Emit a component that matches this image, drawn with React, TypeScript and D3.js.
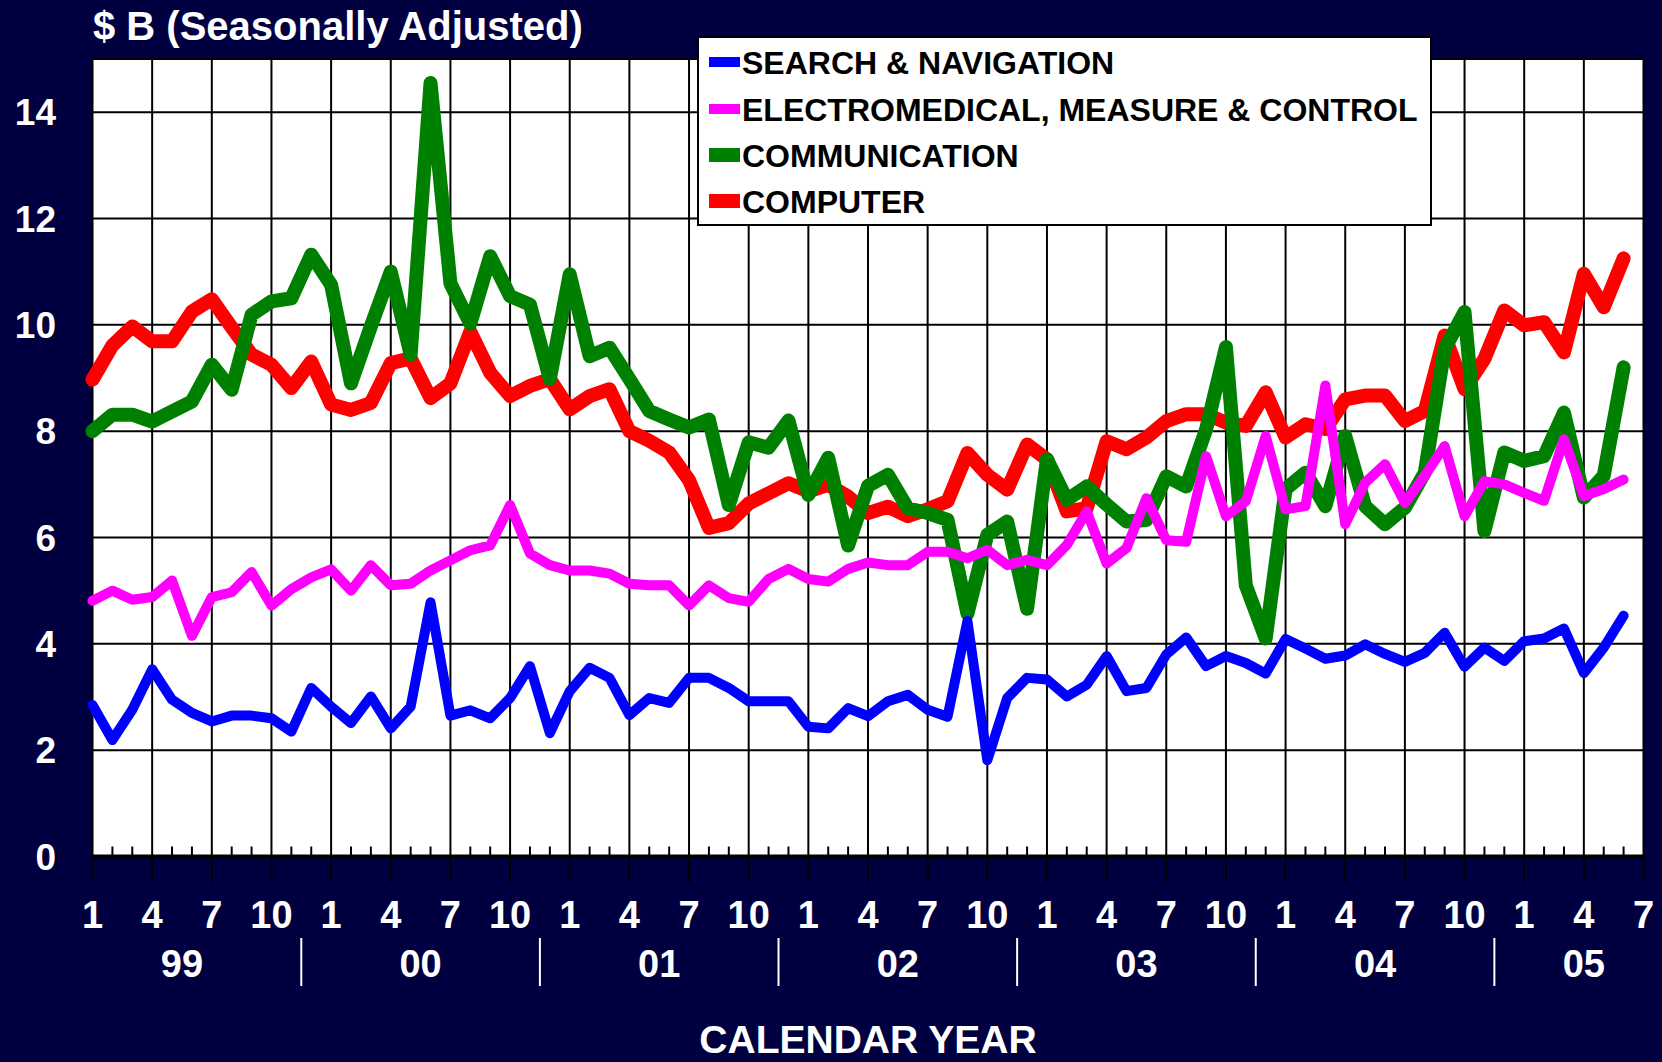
import React from 'react'
import * as d3 from 'd3'

// monthly values, Jan 1999 .. Jun 2005 ($ B, seasonally adjusted)
const searchNav = [
  2.85, 2.19, 2.76, 3.52, 2.95, 2.7, 2.54, 2.65, 2.65, 2.6, 2.35, 3.17,
  2.82, 2.51, 3.01, 2.41, 2.82, 4.78, 2.65, 2.75, 2.6, 2.98, 3.58, 2.32,
  3.11, 3.55, 3.36, 2.66, 2.98, 2.89, 3.36, 3.36, 3.17, 2.92, 2.92, 2.92,
  2.44, 2.41, 2.79, 2.64, 2.92, 3.04, 2.76, 2.63, 4.43, 1.81, 2.98, 3.36,
  3.33, 3.01, 3.23, 3.77, 3.11, 3.17, 3.8, 4.12, 3.58, 3.77, 3.64, 3.44,
  4.09, 3.91, 3.72, 3.78, 3.99, 3.81, 3.66, 3.83, 4.21, 3.57, 3.93, 3.68,
  4.05, 4.1, 4.29, 3.45, 3.93, 4.53,
]
const electromedical = [
  4.81, 5.0, 4.83, 4.88, 5.19, 4.15, 4.88, 4.97, 5.35, 4.72, 5.03, 5.25,
  5.4, 5.0, 5.48, 5.1, 5.13, 5.38, 5.57, 5.76, 5.85, 6.61, 5.7, 5.48,
  5.38, 5.38, 5.32, 5.13, 5.1, 5.1, 4.72, 5.1, 4.86, 4.79, 5.22, 5.41,
  5.22, 5.17, 5.41, 5.53, 5.48, 5.48, 5.73, 5.73, 5.61, 5.77, 5.48, 5.58,
  5.48, 5.86, 6.49, 5.51, 5.8, 6.74, 5.95, 5.92, 7.53, 6.4, 6.68, 7.91,
  6.53, 6.59, 8.86, 6.25, 7.03, 7.38, 6.65, 7.16, 7.72, 6.4, 7.06, 7.0,
  6.84, 6.69, 7.85, 6.78, 6.91, 7.09,
]
const communication = [
  8.0, 8.31, 8.31, 8.18, 8.37, 8.56, 9.25, 8.78, 10.19, 10.44, 10.5, 11.32,
  10.75, 8.9, 9.97, 11.0, 9.44, 14.55, 10.78, 10.02, 11.29, 10.54, 10.38, 8.98,
  10.95, 9.41, 9.57, 8.98, 8.38, 8.22, 8.07, 8.22, 6.61, 7.79, 7.69, 8.2,
  6.8, 7.5, 5.85, 6.97, 7.18, 6.55, 6.46, 6.33, 4.57, 6.05, 6.3, 4.66,
  7.47, 6.71, 6.96, 6.62, 6.3, 6.33, 7.15, 6.96, 8.03, 9.58, 5.1, 4.1,
  6.91, 7.22, 6.59, 7.91, 6.59, 6.25, 6.56, 7.22, 9.55, 10.24, 6.12, 7.6,
  7.44, 7.53, 8.35, 6.75, 7.16, 9.2,
]
const computer = [
  8.97, 9.61, 9.97, 9.69, 9.69, 10.25, 10.48, 9.95, 9.44, 9.25, 8.81, 9.31,
  8.5, 8.4, 8.53, 9.28, 9.37, 8.62, 8.9, 9.87, 9.1, 8.66, 8.85, 8.98,
  8.41, 8.66, 8.79, 8.0, 7.82, 7.6, 7.08, 6.18, 6.27, 6.64, 6.83, 7.02,
  6.87, 6.99, 6.77, 6.46, 6.58, 6.4, 6.53, 6.68, 7.59, 7.18, 6.9, 7.75,
  7.47, 6.49, 6.55, 7.81, 7.66, 7.88, 8.19, 8.32, 8.32, 8.16, 8.1, 8.73,
  7.88, 8.13, 8.04, 8.6, 8.67, 8.67, 8.19, 8.38, 9.8, 8.79, 9.36, 10.27,
  9.99, 10.05, 9.48, 10.96, 10.33, 11.25,
]

const yTicks = [0, 2, 4, 6, 8, 10, 12, 14]
const monthLabels = ['1', '4', '7', '10']
const yearLabels = ['99', '00', '01', '02', '03', '04', '05']

const series = [
  { name: 'SEARCH & NAVIGATION', values: searchNav, color: '#0000ff', width: 10 },
  { name: 'ELECTROMEDICAL, MEASURE & CONTROL', values: electromedical, color: '#ff00ff', width: 10 },
  { name: 'COMMUNICATION', values: communication, color: '#008000', width: 14 },
  { name: 'COMPUTER', values: computer, color: '#ff0000', width: 14 },
]

const W = 1662
const H = 1062
const BG = '#000040'
const FONT = '"Liberation Sans", Arial, sans-serif'

const App: React.FC = () => {
  const nMonths = 78
  const x = d3.scaleLinear().domain([0, nMonths]).range([92.5, 1643.5])
  const y = d3.scaleLinear().domain([0, 15]).range([856.5, 59])

  const line = d3
    .line<number>()
    .x((_, i) => x(i))
    .y((d) => y(d))

  const quarters = d3.range(0, nMonths + 1, 3)
  const minor = d3.range(0, nMonths + 1).filter((m) => m % 3 !== 0)

  // year separators sit 1.5 months before each January
  const seps = yearLabels.slice(1).map((_, i) => (i + 1) * 12 - 1.5)
  const bounds = [-1.5, ...seps, nMonths + 1.5]

  // draw order: computer at the bottom, search on top
  const drawOrder = [...series].reverse()

  return (
    <svg
      width={W}
      height={H}
      style={{ position: 'absolute', left: 0, top: 0, display: 'block' }}
      fontFamily={FONT}
      fontWeight="bold"
    >
      <rect width={W} height={H} fill={BG} />
      <text x={93} y={40} fill="#fff" fontSize={40}>
        $ B (Seasonally Adjusted)
      </text>

      {/* plot area */}
      <rect x={x(0)} y={y(15)} width={x(nMonths) - x(0)} height={y(0) - y(15)} fill="#fff" />
      {yTicks.slice(1).map((t) => (
        <line key={'h' + t} x1={x(0)} x2={x(nMonths)} y1={y(t)} y2={y(t)} stroke="#000" strokeWidth={2} />
      ))}
      {quarters.map((m) => (
        <line key={'v' + m} x1={x(m)} x2={x(m)} y1={y(15)} y2={y(0)} stroke="#000" strokeWidth={2} />
      ))}
      <line x1={x(0)} x2={x(nMonths)} y1={y(15)} y2={y(15)} stroke="#000" strokeWidth={2} />
      {minor.map((m) => (
        <line key={'m' + m} x1={x(m)} x2={x(m)} y1={y(0)} y2={y(0) - 10} stroke="#000" strokeWidth={2} />
      ))}
      {quarters.map((m) => (
        <line key={'t' + m} x1={x(m)} x2={x(m)} y1={y(0)} y2={y(0) + 26} stroke="#000" strokeWidth={2} />
      ))}

      {/* series */}
      {drawOrder.map((s) => (
        <path
          key={s.name}
          d={line(s.values) || ''}
          fill="none"
          stroke={s.color}
          strokeWidth={s.width}
          strokeLinejoin="round"
          strokeLinecap="round"
        />
      ))}

      <line x1={x(0) - 1} x2={x(nMonths) + 1} y1={y(0)} y2={y(0)} stroke="#000" strokeWidth={4} />

      {/* y axis labels */}
      {yTicks.map((t) => (
        <text key={'yl' + t} x={56} y={y(t)} dy="0.36em" textAnchor="end" fill="#fff" fontSize={37}>
          {t}
        </text>
      ))}

      {/* x axis labels */}
      {quarters.map((m) => (
        <text key={'xl' + m} x={x(m)} y={928} textAnchor="middle" fill="#fff" fontSize={38}>
          {monthLabels[(m % 12) / 3]}
        </text>
      ))}
      {seps.map((m) => (
        <line key={'s' + m} x1={x(m)} x2={x(m)} y1={938} y2={986} stroke="#fff" strokeWidth={2} />
      ))}
      {yearLabels.map((lab, i) => (
        <text
          key={'yr' + lab}
          x={x((bounds[i] + bounds[i + 1]) / 2)}
          y={977}
          textAnchor="middle"
          fill="#fff"
          fontSize={38}
        >
          {lab}
        </text>
      ))}
      <text x={(x(0) + x(nMonths)) / 2} y={1053} textAnchor="middle" fill="#fff" fontSize={39}>
        CALENDAR YEAR
      </text>

      {/* legend */}
      <rect x={698} y={37} width={733} height={188} fill="#fff" stroke="#000" strokeWidth={2} />
      {series.map((s, i) => {
        const cy = [62, 109, 155, 201][i]
        return (
          <g key={'lg' + s.name}>
            <rect x={709} y={cy - s.width / 2} width={31} height={s.width} fill={s.color} />
            <text x={742} y={cy} dy="0.36em" fill="#000" fontSize={32}>
              {s.name}
            </text>
          </g>
        )
      })}
    </svg>
  )
}

export default App
